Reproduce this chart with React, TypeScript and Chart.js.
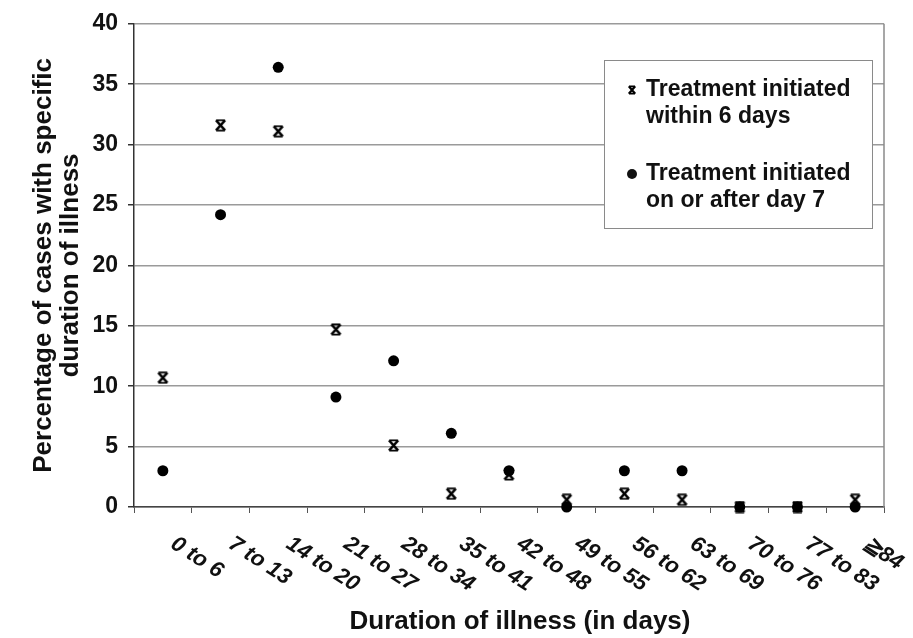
import React, { useEffect, useRef } from "react";
import { Chart, registerables } from "chart.js";

Chart.register(...registerables);

const categories = [
  "0 to 6", "7 to 13", "14 to 20", "21 to 27", "28 to 34", "35 to 41", "42 to 48",
  "49 to 55", "56 to 62", "63 to 69", "70 to 76", "77 to 83", "\u226784",
];
const within6Days = [10.7, 31.6, 31.1, 14.7, 5.1, 1.1, 2.7, 0.6, 1.1, 0.6, 0, 0, 0.6];
const after7Days = [3.0, 24.2, 36.4, 9.1, 12.1, 6.1, 3.0, 0, 3.0, 3.0, 0, 0, 0];
const yTicks = [0, 5, 10, 15, 20, 25, 30, 35, 40];
const legendLabels = [
  ["Treatment initiated", "within 6 days"],
  ["Treatment initiated", "on or after day 7"],
];
const yTitle = ["Percentage of cases with specific", "duration of illness"];
const xTitle = "Duration of illness (in days)";

const FONT = "'Liberation Sans', Arial, Helvetica, sans-serif";

function makeStar(size: number, lw: number): HTMLCanvasElement {
  const c = document.createElement("canvas");
  c.width = size;
  c.height = size;
  const ctx = c.getContext("2d")!;
  ctx.strokeStyle = "#000";
  ctx.lineWidth = lw;
  ctx.lineCap = "butt";
  const a = lw / 2 + 0.2;
  const b = size - lw / 2 - 0.2;
  ctx.beginPath();
  ctx.moveTo(a + 0.5, a);
  ctx.lineTo(b - 0.5, b);
  ctx.moveTo(b - 0.5, a);
  ctx.lineTo(a + 0.5, b);
  ctx.stroke();
  ctx.lineWidth = lw * 0.8;
  ctx.beginPath();
  ctx.moveTo(a + 1, a);
  ctx.lineTo(b - 1, a);
  ctx.moveTo(a + 1, b);
  ctx.lineTo(b - 1, b);
  ctx.stroke();
  return c;
}

export default function App() {
  const ref = useRef<HTMLCanvasElement | null>(null);

  useEffect(() => {
    document.body.style.margin = "0";
    const canvas = ref.current;
    if (!canvas) return;
    const star = makeStar(13, 2.4);
    const legendStar = makeStar(10, 2.2);

    const overlay = {
      id: "overlay",
      afterDatasetsDraw(chart: any) {
        const { ctx, chartArea } = chart;
        const xs = chart.scales.x;
        ctx.save();
        // right border
        ctx.strokeStyle = "#8a8a8a";
        ctx.lineWidth = 1.5;
        ctx.beginPath();
        ctx.moveTo(chartArea.right, chartArea.top);
        ctx.lineTo(chartArea.right, chartArea.bottom);
        ctx.stroke();

        // legend box
        const lx = 604, ly = 60, lw = 268, lh = 168;
        ctx.fillStyle = "#fff";
        ctx.fillRect(lx, ly, lw, lh);
        ctx.strokeStyle = "#8a8a8a";
        ctx.lineWidth = 1;
        ctx.strokeRect(lx + 0.5, ly + 0.5, lw, lh);
        ctx.fillStyle = "#111";
        ctx.font = `bold 23px ${FONT}`;
        ctx.textAlign = "left";
        ctx.textBaseline = "middle";
        const rows = [90, 174];
        legendLabels.forEach((lines, i) => {
          lines.forEach((t, j) => ctx.fillText(t, 646, rows[i] + j * 27));
        });
        ctx.drawImage(legendStar, 632 - 5, rows[0] - 5);
        ctx.beginPath();
        ctx.arc(632, rows[1], 5, 0, Math.PI * 2);
        ctx.fill();

        // x tick labels (rotated clockwise)
        ctx.font = `italic bold 22px ${FONT}`;
        categories.forEach((c, i) => {
          const x = xs.getPixelForValue(i);
          ctx.save();
          ctx.translate(x + 10, chartArea.bottom + 35);
          ctx.rotate((33 * Math.PI) / 180);
          ctx.fillText(c, 0, 0);
          ctx.restore();
        });

        // x title
        ctx.font = `bold 26px ${FONT}`;
        ctx.textAlign = "center";
        ctx.fillText(xTitle, 520, 622);
        ctx.restore();
      },
    };

    const chart = new Chart(canvas, {
      type: "line",
      data: {
        labels: categories,
        datasets: [
          {
            label: legendLabels[0].join(" "),
            data: within6Days,
            showLine: false,
            pointStyle: star as any,
            pointRadius: 6,
            borderColor: "#000",
            backgroundColor: "#000",
            clip: false as any,
          },
          {
            label: legendLabels[1].join(" "),
            data: after7Days,
            showLine: false,
            pointStyle: "circle",
            pointRadius: 5.5,
            borderWidth: 0,
            borderColor: "#000",
            backgroundColor: "#000",
            clip: false as any,
          },
        ],
      },
      options: {
        responsive: false,
        animation: false,
        layout: { padding: { left: 0, right: 29, top: 19, bottom: 0 } },
        plugins: {
          legend: { display: false },
          tooltip: { enabled: false },
        },
        scales: {
          x: {
            offset: true,
            grid: {
              display: true,
              drawOnChartArea: false,
              drawTicks: true,
              tickLength: 6,
              offset: true,
              tickColor: "#555",
              lineWidth: 1,
            },
            border: { display: true, color: "#444", width: 1.5 },
            ticks: { display: false },
            afterFit(scale: any) {
              scale.height = 131;
            },
          },
          y: {
            min: 0,
            max: 40,
            afterBuildTicks(scale: any) {
              scale.ticks = yTicks.map((v) => ({ value: v }));
            },
            grid: {
              color: "#9a9a9a",
              lineWidth: 1.5,
              tickLength: 6,
              tickColor: "#333",
            },
            border: { display: true, color: "#333", width: 1.5 },
            ticks: {
              color: "#111",
              padding: 10,
              font: { family: FONT, size: 23, weight: "bold" },
            },
            title: {
              display: true,
              text: yTitle,
              color: "#111",
              padding: { top: 30, bottom: 0 },
              font: { family: FONT, size: 26, weight: "bold", lineHeight: 1.04 },
            },
            afterFit(scale: any) {
              scale.width = 134;
            },
          },
        },
      },
      plugins: [overlay],
    });
    return () => chart.destroy();
  }, []);

  return <canvas ref={ref} width={913} height={638} style={{ display: "block" }} />;
}
